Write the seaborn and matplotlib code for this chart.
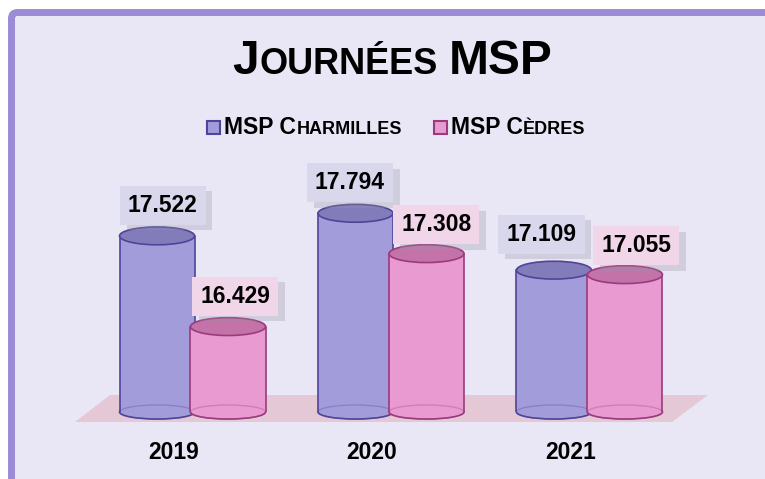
import pandas as pd
import matplotlib
matplotlib.use("Agg")
import matplotlib.pyplot as plt
import matplotlib.transforms as mtransforms
import matplotlib.patheffects as pe
from matplotlib.patches import Ellipse, FancyBboxPatch, Polygon, Rectangle
from matplotlib.offsetbox import TextArea, HPacker, DrawingArea, AnchoredOffsetbox
import seaborn as sns

# -------------------------------
# Data
# -------------------------------
years = ["2019", "2020", "2021"]
series = ["MSP Charmilles", "MSP Cèdres"]
charmilles = [17522, 17794, 17109]
cedres = [16429, 17308, 17055]

body_colors = ["#A39CDB", "#E99BD1"]
top_colors = ["#837CBA", "#C473A9"]
edge_colors = ["#4F4598", "#9B3A7C"]
box_colors = ["#D9D7EC", "#F1D5E8"]

# label nudges (points), as placed in the original chart
label_dx = [4, -4, -9, 5, 7, 8]
label_dy = [22, 22, 26, 22, 21, 21]

df = pd.DataFrame({
    "annee": years * 2,
    "serie": [series[0]] * 3 + [series[1]] * 3,
    "journees": charmilles + cedres,
})

sns.set_theme(style="white")
plt.rcParams["font.family"] = ["Liberation Sans", "DejaVu Sans"]

fig = plt.figure(figsize=(7.65, 4.79), dpi=100)
fig.patch.set_facecolor("white")

# frame of the chart area
frame = FancyBboxPatch((0.115, -0.3), 7.9, 4.965,
                       boxstyle="round,pad=0,rounding_size=0.06",
                       linewidth=5, edgecolor="#9C8BD5", facecolor="#E9E7F5",
                       transform=fig.dpi_scale_trans, zorder=-3)
fig.add_artist(frame)

# floor of the 3D chart
floor = Polygon([(0.75, 0.57), (6.72, 0.57), (7.08, 0.84), (1.10, 0.84)],
                closed=True, facecolor="#E4C8D6", edgecolor="none",
                transform=fig.dpi_scale_trans, zorder=-2)
fig.add_artist(floor)

base = 15400
ax = fig.add_axes([80 / 765, 1 - 412 / 479, 620 / 765, 232 / 479])
sns.barplot(data=df, x="annee", y="journees", hue="serie", palette=body_colors,
            width=0.715, saturation=1, legend=False, ax=ax)
ax.set_ylim(base, base + 232 / 83 * 1000)
ax.set_xlim(-0.567, 2.557)

# -------------------------------
# Turn the bars into cylinders
# -------------------------------
bar_w = 0.378
top_h = 215
bot_h = 170
for i, patch in enumerate(list(ax.patches)):
    s = i // 3
    z = 2 + s
    v = patch.get_height()
    cx = patch.get_x() + patch.get_width() / 2
    patch.set_x(cx - bar_w / 2)
    patch.set_width(bar_w)
    patch.set_y(base)
    patch.set_height(v - base)
    patch.set_edgecolor("none")
    patch.set_zorder(z)

    ax.add_patch(Ellipse((cx, base), bar_w, bot_h, facecolor=body_colors[s],
                         edgecolor=edge_colors[s], lw=1.2, zorder=z - 0.1, clip_on=False))
    ax.add_patch(Ellipse((cx, base), bar_w, bot_h, fill=False,
                         edgecolor=edge_colors[s], lw=1.0, alpha=0.3, zorder=z + 0.05, clip_on=False))
    ax.plot([cx - bar_w / 2] * 2, [base, v], color=edge_colors[s], lw=1.2, zorder=z + 0.05)
    ax.plot([cx + bar_w / 2] * 2, [base, v], color=edge_colors[s], lw=1.2, zorder=z + 0.05)
    ax.add_patch(Ellipse((cx, v), bar_w, top_h, facecolor=top_colors[s],
                         edgecolor=edge_colors[s], lw=1.2, zorder=z + 0.1, clip_on=False))

    label = f"{int(v):,}".replace(",", ".")
    t = ax.annotate(label, xy=(cx, v), xytext=(label_dx[i], label_dy[i]),
                    textcoords="offset points",
                    ha="center", va="center", fontsize=16.5, fontweight="bold",
                    color="black", zorder=8, annotation_clip=False,
                    bbox=dict(boxstyle="square,pad=0.35", fc=box_colors[s], ec="none"))
    t.get_bbox_patch().set_path_effects([
        pe.SimplePatchShadow(offset=(5, -4), shadow_rgbFace="#9896A8", alpha=0.3),
        pe.Normal()])

# -------------------------------
# Axes styling
# -------------------------------
ax.set_facecolor("none")
ax.set_xlabel("")
ax.set_ylabel("")
ax.set_yticks([])
sns.despine(ax=ax, left=True, bottom=True)
ax.set_xticks(range(len(years)))
ax.set_xticklabels(years, fontsize=16.5, fontweight="bold", color="black")
ax.tick_params(axis="x", length=0, pad=21)
shift = mtransforms.ScaledTranslation(-19 / 100, 0, fig.dpi_scale_trans)
for lab in ax.get_xticklabels():
    lab.set_transform(lab.get_transform() + shift)

# -------------------------------
# Title (small caps)
# -------------------------------
big = dict(fontsize=34.5, fontweight="bold", color="black")
small = dict(fontsize=26, fontweight="bold", color="black")
title_box = HPacker(children=[
    HPacker(children=[TextArea("J", textprops=big), TextArea("OURNÉES", textprops=small)],
            sep=0, pad=0, align="baseline"),
    TextArea("MSP", textprops=big)], sep=8, pad=0, align="baseline")
fig.add_artist(AnchoredOffsetbox(loc="center", child=title_box, pad=0, borderpad=0,
                                 bbox_to_anchor=(0.513, 0.872),
                                 bbox_transform=fig.transFigure, frameon=False))

# -------------------------------
# Legend (small caps)
# -------------------------------
cap = dict(fontsize=16.5, fontweight="bold", color="black")
low = dict(fontsize=13, fontweight="bold", color="black")
legend_parts = [("MSP C", "HARMILLES"), ("MSP C", "ÈDRES")]
entries = []
for s, (a, b) in enumerate(legend_parts):
    da = DrawingArea(9.4, 9.4, 0, 0)
    da.add_artist(Rectangle((0, 0), 9.4, 9.4, facecolor=body_colors[s],
                            edgecolor=edge_colors[s], lw=1.5))
    words = HPacker(children=[TextArea(a, textprops=cap), TextArea(b, textprops=low)],
                    sep=0, pad=0, align="baseline")
    entries.append(HPacker(children=[da, words], sep=3, pad=0, align="baseline"))
legend_box = HPacker(children=entries, sep=23, pad=0, align="baseline")
fig.add_artist(AnchoredOffsetbox(loc="center", child=legend_box, pad=0, borderpad=0,
                                 bbox_to_anchor=(0.518, 0.733),
                                 bbox_transform=fig.transFigure, frameon=False))

plt.savefig("out.png", dpi=100)
